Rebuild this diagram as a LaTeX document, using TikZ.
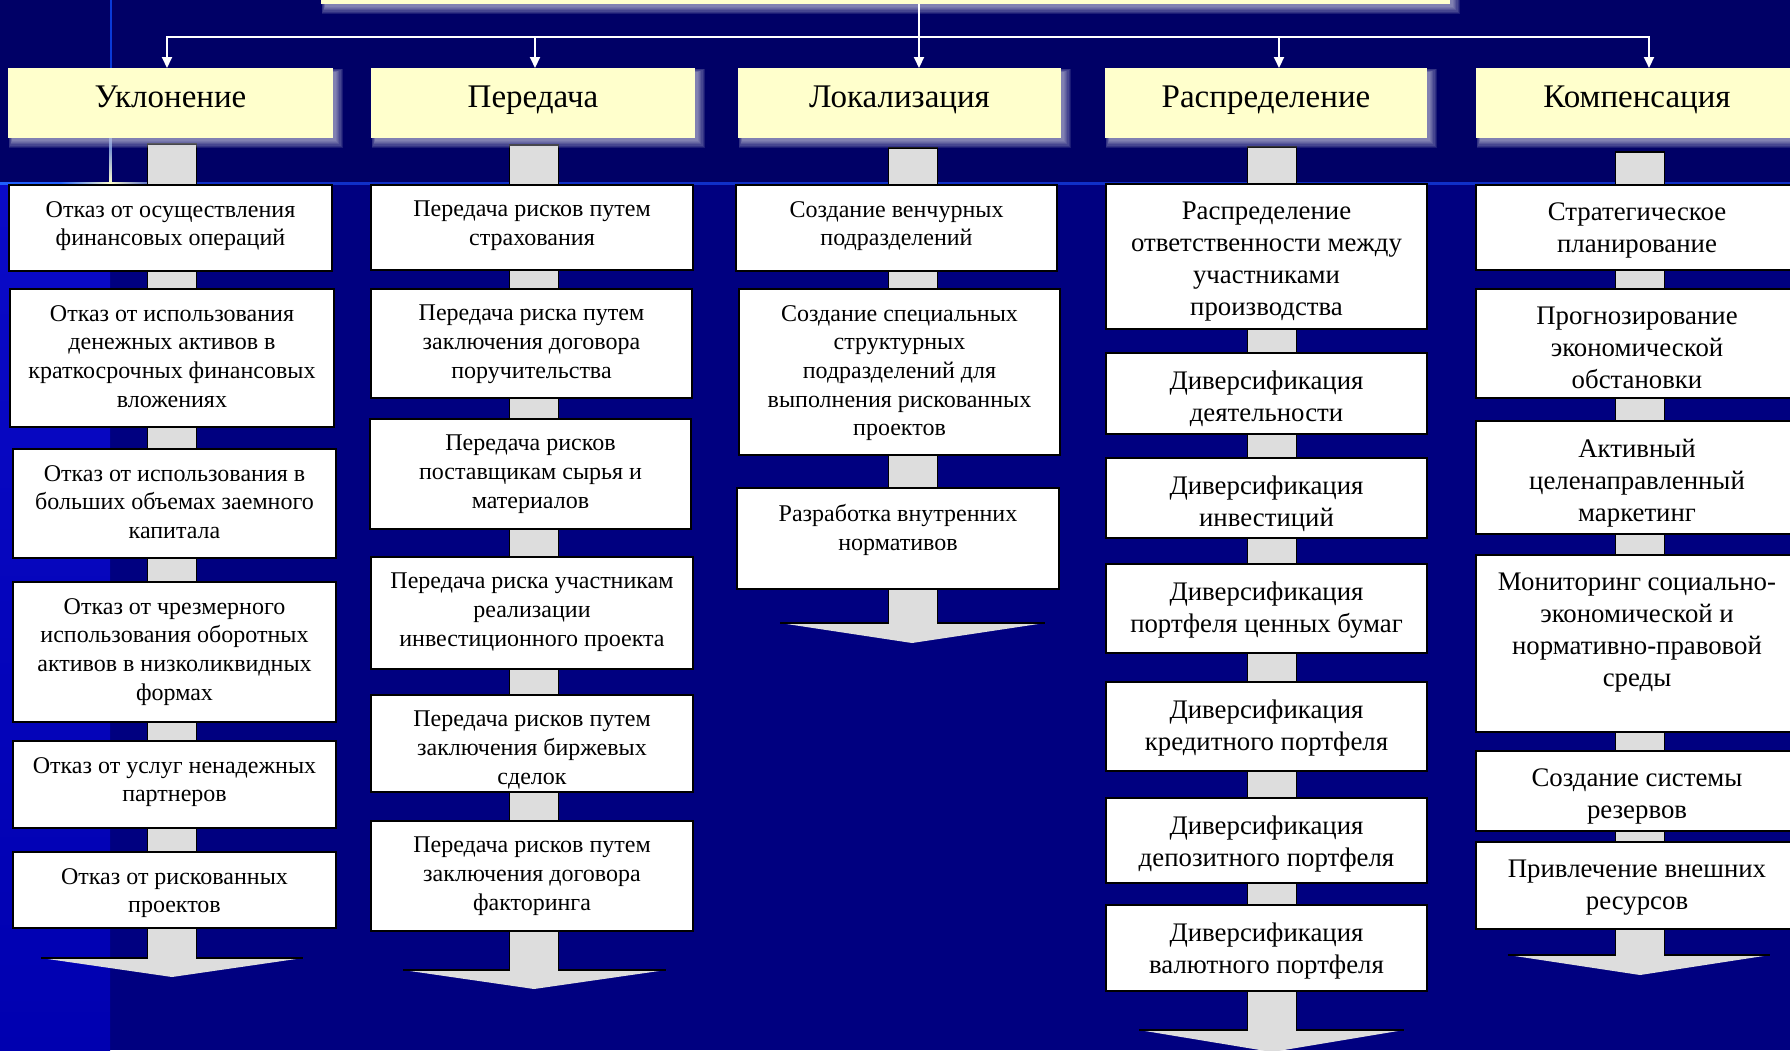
\documentclass[tikz,border=0pt]{standalone}
\usepackage{fontspec}
\setmainfont{Liberation Serif}
\usetikzlibrary{arrows.meta,fit,calc}
\pgfdeclarelayer{back}
\pgfdeclarelayer{bg}
\pgfsetlayers{back,bg,main}
\definecolor{bgtop}{HTML}{000066}
\definecolor{bglow}{HTML}{000080}
\definecolor{stripA}{HTML}{0A0AC8}
\definecolor{stripB}{HTML}{0000B0}
\definecolor{hdrfill}{HTML}{FFFFCC}
\definecolor{conngray}{HTML}{DDDDDD}
\definecolor{glowc}{HTML}{D4D4E4}
\definecolor{hlineA}{HTML}{2060FF}
\definecolor{hlineB}{HTML}{1030C8}
\definecolor{vlineC}{HTML}{0A3AD8}
\tikzset{
  boxst/.style={draw=black, line width=2pt, fill=white, inner sep=0pt, outer sep=0pt},
  hdrst/.style={fill=hdrfill, inner sep=0pt, outer sep=0pt},
  txt/.style={align=center, inner sep=0pt, anchor=north, yshift=-16pt,
    font=\fontsize{24}{28.7}\selectfont},
  txtb/.style={align=center, inner sep=0pt, anchor=north, yshift=-18pt,
    font=\fontsize{26.8}{31.8}\selectfont},
  hdrtxt/.style={inner sep=0pt, anchor=base, yshift=-4.5pt,
    font=\fontsize{33}{38}\selectfont},
  gconn/.style={fill=conngray, draw=black, line width=1.5pt},
  bigarrow/.style={fill=conngray},
  arrowedge/.style={draw=black, line width=1.5pt},
  topline/.style={draw=white, line width=2pt},
  toptip/.style={-{Triangle[width=10pt,length=11pt]}},
}
% box: name, x1, y1, x2, y2, text style, text
\newcommand{\bx}[7]{%
  \node[boxst, fit={(#2,#3)(#4,#5)}] (#1) {};
  \node[#6] (#1t) at (#1.north) {#7};
}
% soft glow behind a header
\newcommand{\glowat}[4]{%
  \foreach \k in {1,...,7}
    \fill[glowc, opacity=0.13] ({#1+5-0.6*\k},{#2+5-0.6*\k}) rectangle ({#3+2+1.1*\k},{#4+2+1.1*\k});
}
% gray connector between two boxes of a column
\newcommand{\gc}[3]{\path[gconn] (#2.south -| cL#1) rectangle (#3.north -| cR#1);}
% gray connector from a column top coordinate to the first box
\newcommand{\gctop}[2]{\path[gconn] (s#1 -| cL#1) rectangle (#2.north -| cR#1);}
% big arrow: col, last box, tip x, tip y, head top y, head left x, head right x
\newcommand{\barrow}[7]{%
  \coordinate (tip#1) at (#3,#4);
  \coordinate (hl#1) at (#6,#5);
  \coordinate (hr#1) at (#7,#5);
  \fill[bigarrow] (#2.south -| cL#1) -- (hl#1 -| cL#1) -- (hl#1) -- (tip#1)
    -- (hr#1) -- (hr#1 -| cR#1) -- (#2.south -| cR#1) -- cycle;
  \draw[arrowedge] (#2.south -| cL#1) -- (hl#1 -| cL#1) -- (hl#1);
  \draw[arrowedge] (#2.south -| cR#1) -- (hr#1 -| cR#1) -- (hr#1);
}
\begin{document}
\begin{tikzpicture}[x=1pt,y=-1pt]
\useasboundingbox (0,0) rectangle (1790,1050);
% ---------- background ----------
\begin{pgfonlayer}{back}
  \fill[bglow] (0,0) rectangle (1790,1050);
  \fill[bgtop] (0,0) rectangle (1790,183);
  \fill[stripB] (0,183) rectangle (110,1050);
  \shade[top color=stripA, bottom color=stripB] (0,183) rectangle (110,1055);
  \fill[hlineB] (110,182) rectangle (1790,184.5);
  \fill[hlineA] (0,182) rectangle (110,184.5);
  \shade[left color=hlineA, right color=hdrfill] (60,182) rectangle (110,184.5);
  \shade[left color=hdrfill, right color=hlineB] (110,182) rectangle (165,184.5);
  \fill[vlineC] (109.5,0) rectangle (111.5,120);
  \shade[top color=vlineC, bottom color=hdrfill] (109.5,120) rectangle (111.5,183);
\end{pgfonlayer}

% ---------- column geometry ----------
\coordinate (cL1) at (147.5,0);  \coordinate (cR1) at (196.5,0);
\coordinate (cL2) at (509.5,0);  \coordinate (cR2) at (558.5,0);
\coordinate (cL3) at (888.5,0);  \coordinate (cR3) at (937.5,0);
\coordinate (cL4) at (1247.5,0); \coordinate (cR4) at (1296.5,0);
\coordinate (cL5) at (1615.5,0); \coordinate (cR5) at (1664.5,0);

% ---------- title and headers ----------
\glowat{321}{-30}{1450}{4}
\node[hdrst, fit={(321,-30)(1450,4)}] (title) {};
\glowat{8}{68}{333}{138}
\node[hdrst, fit={(8,68)(333,138)}] (h1) {};
\glowat{371}{68}{695}{138}
\node[hdrst, fit={(371,68)(695,138)}] (h2) {};
\glowat{738}{68}{1061}{138}
\node[hdrst, fit={(738,68)(1061,138)}] (h3) {};
\glowat{1105}{68}{1427}{138}
\node[hdrst, fit={(1105,68)(1427,138)}] (h4) {};
\glowat{1476}{68}{1798}{138}
\node[hdrst, fit={(1476,68)(1798,138)}] (h5) {};
\node[hdrtxt] (h1t) at (h1.center) {Уклонение};
\node[hdrtxt] (h2t) at (h2.center) {Передача};
\node[hdrtxt] (h3t) at (h3.center) {Локализация};
\node[hdrtxt] (h4t) at (h4.center) {Распределение};
\node[hdrtxt] (h5t) at (h5.center) {Компенсация};

% ---------- top connectors ----------
\coordinate (j1) at (167,37);
\coordinate (j2) at (535,37);
\coordinate (j3) at (919,37);
\coordinate (j4) at (1279,37);
\coordinate (j5) at (1649,37);
\draw[topline, {Triangle[width=10pt,length=11pt]}-{Triangle[width=10pt,length=11pt]}]
  (j1 |- h1.north) -- (j1) -- (j5) -- (j5 |- h5.north);
\draw[topline, toptip] (title.south -| j3) -- (j3 |- h3.north);
\draw[topline, toptip] (j2) -- (j2 |- h2.north);
\draw[topline, toptip] (j4) -- (j4 |- h4.north);

% ---------- column 1 ----------
\bx{c1b1}{9}{185}{332}{271}{txt}{Отказ от осуществления\\финансовых операций}
\bx{c1b2}{10}{289}{334}{427}{txt}{Отказ от использования\\денежных активов в\\краткосрочных финансовых\\вложениях}
\bx{c1b3}{13}{449}{336}{558}{txt}{Отказ от использования в\\больших объемах заемного\\капитала}
\bx{c1b4}{13}{582}{336}{722}{txt}{Отказ от чрезмерного\\использования оборотных\\активов в низколиквидных\\формах}
\bx{c1b5}{13}{741}{336}{828}{txt}{Отказ от услуг ненадежных\\партнеров}
\bx{c1b6}{13}{852}{336}{928}{txt}{Отказ от рискованных\\проектов}

% ---------- column 2 ----------
\bx{c2b1}{371}{185}{693}{270}{txt}{Передача рисков путем\\страхования}
\bx{c2b2}{371}{289}{692}{398}{txt}{Передача риска путем\\заключения договора\\поручительства}
\bx{c2b3}{370}{419}{691}{529}{txt}{Передача рисков\\поставщикам сырья и\\материалов}
\bx{c2b4}{371}{557}{693}{669}{txt}{Передача риска участникам\\реализации\\инвестиционного проекта}
\bx{c2b5}{371}{695}{693}{792}{txt}{Передача рисков путем\\заключения биржевых\\сделок}
\bx{c2b6}{371}{821}{693}{931}{txt}{Передача рисков путем\\заключения договора\\факторинга}

% ---------- column 3 ----------
\bx{c3b1}{736}{185}{1057}{271}{txt}{Создание венчурных\\подразделений}
\bx{c3b2}{739}{289}{1060}{455}{txt}{Создание специальных\\структурных\\подразделений для\\выполнения рискованных\\проектов}
\bx{c3b3}{737}{488}{1059}{589}{txt}{Разработка внутренних\\нормативов}

% ---------- column 4 ----------
\bx{c4b1}{1106}{184}{1427}{329}{txtb}{Распределение\\ответственности между\\участниками\\производства}
\bx{c4b2}{1106}{353}{1427}{434}{txtb}{Диверсификация\\деятельности}
\bx{c4b3}{1106}{458}{1427}{538}{txtb}{Диверсификация\\инвестиций}
\bx{c4b4}{1106}{564}{1427}{653}{txtb}{Диверсификация\\портфеля ценных бумаг}
\bx{c4b5}{1106}{682}{1427}{771}{txtb}{Диверсификация\\кредитного портфеля}
\bx{c4b6}{1106}{798}{1427}{883}{txtb}{Диверсификация\\депозитного портфеля}
\bx{c4b7}{1106}{905}{1427}{991}{txtb}{Диверсификация\\валютного портфеля}

% ---------- column 5 ----------
\bx{c5b1}{1476}{185}{1798}{270}{txtb}{Стратегическое\\планирование}
\bx{c5b2}{1476}{289}{1798}{398}{txtb}{Прогнозирование\\экономической\\обстановки}
\bx{c5b3}{1476}{421}{1798}{534}{txtb}{Активный\\целенаправленный\\маркетинг}
\bx{c5b4}{1476}{555}{1798}{732}{txtb}{Мониторинг социально-\\экономической и\\нормативно-правовой\\среды}
\bx{c5b5}{1476}{751}{1798}{831}{txtb}{Создание системы\\резервов}
\bx{c5b6}{1476}{842}{1798}{929}{txtb}{Привлечение внешних\\ресурсов}

% ---------- gray connectors and arrows (below boxes) ----------
\coordinate (s1) at ([yshift=-6pt]h1.south);
\coordinate (s2) at ([yshift=-7pt]h2.south);
\coordinate (s3) at ([yshift=-10pt]h3.south);
\coordinate (s4) at ([yshift=-9pt]h4.south);
\coordinate (s5) at ([yshift=-14pt]h5.south);
\begin{pgfonlayer}{bg}
  \gctop{1}{c1b1} \gc{1}{c1b1}{c1b2} \gc{1}{c1b2}{c1b3} \gc{1}{c1b3}{c1b4}
  \gc{1}{c1b4}{c1b5} \gc{1}{c1b5}{c1b6}
  \gctop{2}{c2b1} \gc{2}{c2b1}{c2b2} \gc{2}{c2b2}{c2b3} \gc{2}{c2b3}{c2b4}
  \gc{2}{c2b4}{c2b5} \gc{2}{c2b5}{c2b6}
  \gctop{3}{c3b1} \gc{3}{c3b1}{c3b2} \gc{3}{c3b2}{c3b3}
  \gctop{4}{c4b1} \gc{4}{c4b1}{c4b2} \gc{4}{c4b2}{c4b3} \gc{4}{c4b3}{c4b4}
  \gc{4}{c4b4}{c4b5} \gc{4}{c4b5}{c4b6} \gc{4}{c4b6}{c4b7}
  \gctop{5}{c5b1} \gc{5}{c5b1}{c5b2} \gc{5}{c5b2}{c5b3} \gc{5}{c5b3}{c5b4}
  \gc{5}{c5b4}{c5b5} \gc{5}{c5b5}{c5b6}
  \barrow{1}{c1b6}{172}{977}{958}{41}{303}
  \barrow{2}{c2b6}{534}{989}{970}{403}{666}
  \barrow{3}{c3b3}{912}{643}{623}{780}{1045}
  \barrow{4}{c4b7}{1272}{1052}{1030}{1139}{1404}
  \barrow{5}{c5b6}{1640}{975}{955}{1508}{1770}
\end{pgfonlayer}
\end{tikzpicture}
\end{document}
